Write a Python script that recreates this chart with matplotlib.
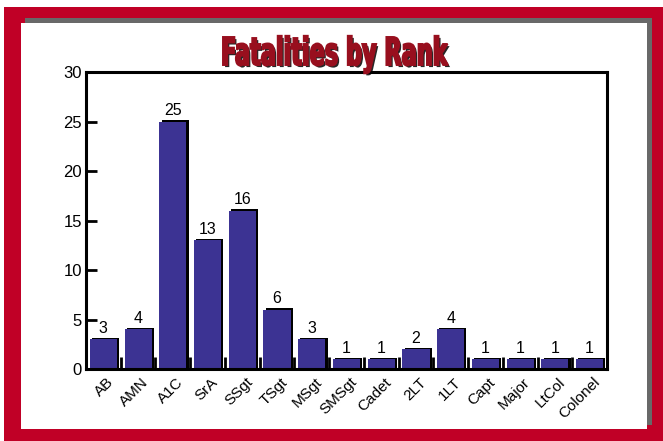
import numpy as np
import matplotlib
matplotlib.use("Agg")
from matplotlib import pyplot as plt
from matplotlib import patheffects
from matplotlib.patches import Rectangle, PathPatch
from matplotlib.textpath import TextPath
from matplotlib.font_manager import FontProperties
from matplotlib.transforms import Affine2D, ScaledTranslation

ranks = ['AB', 'AMN', 'A1C', 'SrA', 'SSgt', 'TSgt', 'MSgt', 'SMSgt', 'Cadet',
         '2LT', '1LT', 'Capt', 'Major', 'LtCol', 'Colonel']
fatalities = [3, 4, 25, 13, 16, 6, 3, 1, 1, 2, 4, 1, 1, 1, 1]
yticks = [0, 5, 10, 15, 20, 25, 30]
title = 'Fatalities by Rank'

W, H = 663, 441
plt.rcParams['font.family'] = ['Liberation Sans', 'DejaVu Sans']

fig = plt.figure(figsize=(W / 100, H / 100), dpi=100)
fig.patch.set_facecolor('white')


def px_rect(x0, y0, x1, y1, **kw):
    # rectangle given in pixel coords (origin top-left)
    return Rectangle((x0 / W, 1 - y1 / H), (x1 - x0) / W, (y1 - y0) / H,
                     transform=fig.transFigure, **kw)


# red frame, grey drop shadow and white panel
fig.patches.append(px_rect(4, 7, 663, 441, facecolor='#c00026', edgecolor='none', zorder=-3))
fig.patches.append(px_rect(25, 18, 652, 425, facecolor='#686868', edgecolor='none', zorder=-2))
fig.patches.append(px_rect(21, 23, 647, 429, facecolor='white', edgecolor='none', zorder=-1))

ax = fig.add_axes([86 / W, 1 - 369 / H, (607 - 86) / W, (369 - 72) / H])
x = np.arange(len(ranks))
bar_color = '#3c3393'

bars = ax.bar(x, fatalities, width=0.78, color=bar_color, edgecolor='none',
              path_effects=[patheffects.SimplePatchShadow(offset=(1.6, 0.9), shadow_rgbFace='black', alpha=1),
                            patheffects.Normal()])
ax.bar_label(bars, padding=2.5, fontsize=11.5)

ax.set_xlim(-0.5, len(ranks) - 0.5)
ax.set_ylim(0, 30)
ax.set_yticks(yticks)
ax.tick_params(axis='y', direction='in', length=8, width=2, pad=3, labelsize=12)

ax.set_xticks(x)
ax.set_xticklabels(ranks, rotation=45, ha='right', va='center', rotation_mode='anchor', fontsize=11)
ax.tick_params(axis='x', which='major', length=0, pad=8)
ax.set_xticks(np.arange(0.5, len(ranks) - 1, 1), minor=True)
ax.tick_params(axis='x', which='minor', direction='in', length=9, width=2)
shift = ScaledTranslation(0.08, 0, fig.dpi_scale_trans)
for lbl in ax.get_xticklabels():
    lbl.set_transform(lbl.get_transform() + shift)

for sp in ax.spines.values():
    sp.set_linewidth(2.2)

# condensed heavy title drawn as a path so it can be squeezed horizontally
prop = FontProperties(family='DejaVu Sans', weight='bold')
tp = TextPath((0, 0), title, size=1, prop=prop)
ext = tp.get_extents()
cap = TextPath((0, 0), 'F', size=1, prop=prop).get_extents().y1
sx = (225 / W) / (ext.x1 - ext.x0)
sy = (28 / H) / cap
tr = Affine2D().translate(-ext.x0, 0).scale(sx, sy).translate(223 / W, 1 - 65 / H) + fig.transFigure
title_patch = PathPatch(tp, transform=tr, facecolor='#980f1e', edgecolor='#980f1e', lw=1.4, zorder=5,
                        path_effects=[patheffects.SimplePatchShadow(offset=(1.5, -1.5), shadow_rgbFace='black', alpha=0.85),
                                      patheffects.Normal()])
fig.patches.append(title_patch)

fig.savefig('out.png', dpi=100)
